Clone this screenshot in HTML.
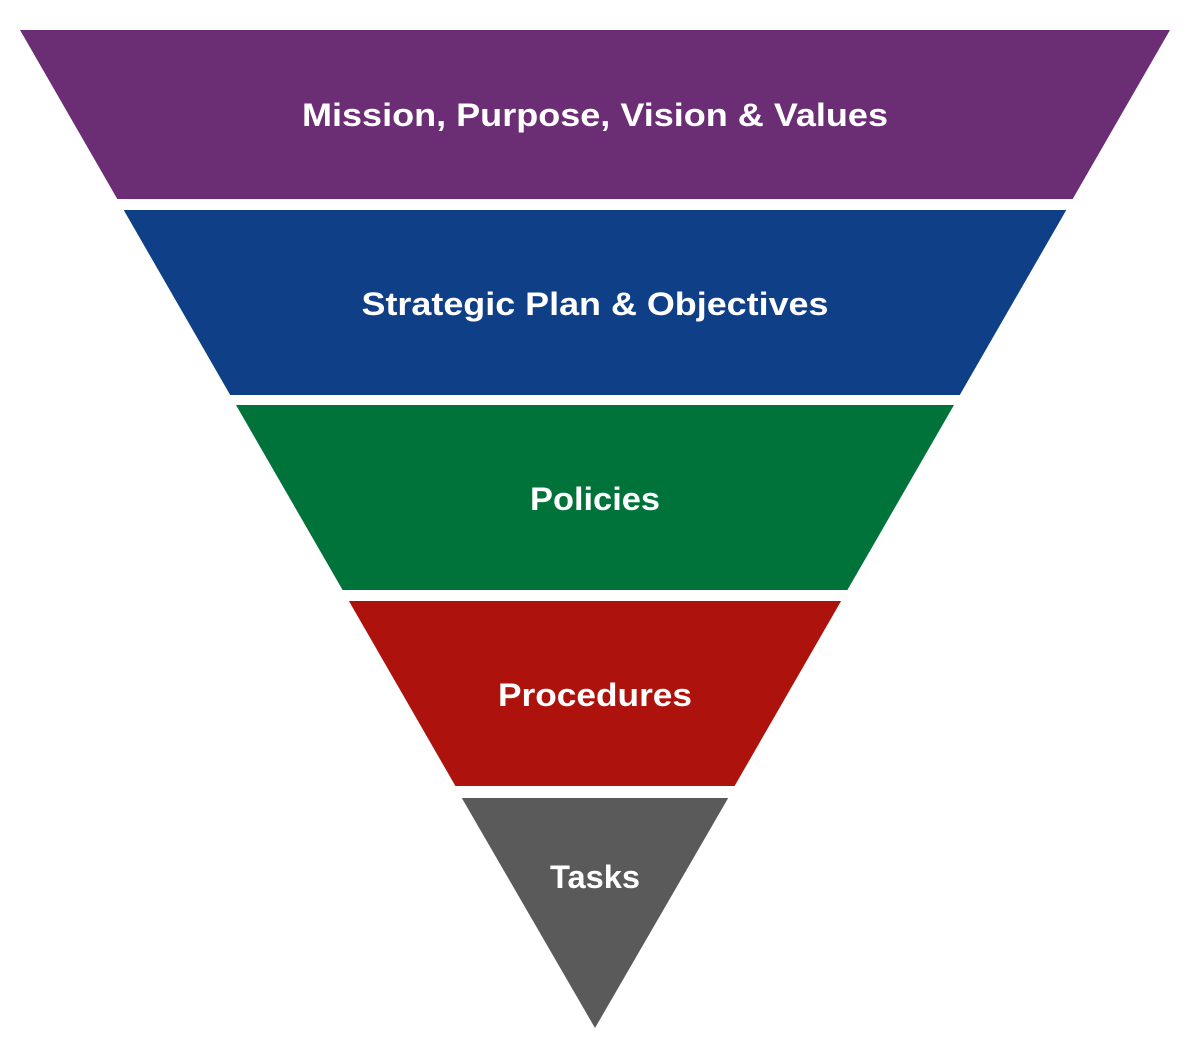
<!DOCTYPE html>
<html><head><style>html,body{margin:0;padding:0;background:#fff}svg{display:block}</style></head>
<body>
<svg width="1200" height="1061" viewBox="0 0 1200 1061" xmlns="http://www.w3.org/2000/svg">
<g>
<polygon points="20,30 1170,30 1072.7,199 117.3,199" fill="#6b2e75"/>
<polygon points="123.7,210 1066.3,210 959.8,395 230.2,395" fill="#0f3f87"/>
<polygon points="236,405 1154,405" fill="none"/>
<polygon points="236,405 954,405 847.4,590 342.6,590" fill="#00733a"/>
<polygon points="348.9,601 841.1,601 734.6,786 455.4,786" fill="#ad130c"/>
<polygon points="461.8,798 728.2,798 595,1028" fill="#5a5a5a"/>
</g>
<g font-family="'Liberation Sans', sans-serif" font-weight="bold" fill="#fff" font-size="32" text-anchor="middle">
<text x="595" y="126" textLength="586" lengthAdjust="spacingAndGlyphs">Mission, Purpose, Vision &amp; Values</text>
<text x="595" y="315" textLength="467" lengthAdjust="spacingAndGlyphs">Strategic Plan &amp; Objectives</text>
<text x="595" y="510" textLength="130" lengthAdjust="spacingAndGlyphs">Policies</text>
<text x="595" y="706" textLength="194" lengthAdjust="spacingAndGlyphs">Procedures</text>
<text x="595" y="888" textLength="90" lengthAdjust="spacingAndGlyphs">Tasks</text>
</g>
</svg>
</body></html>
